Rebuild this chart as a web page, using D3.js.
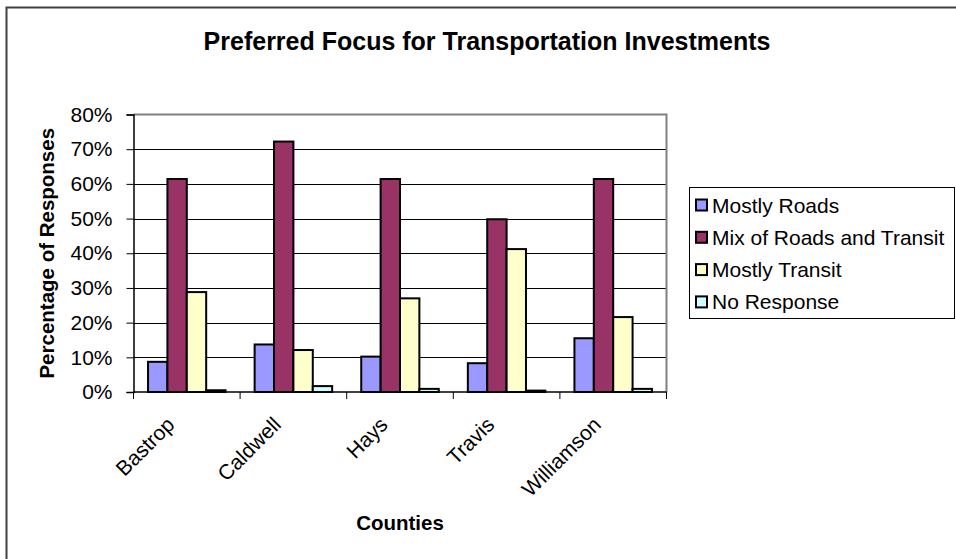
<!DOCTYPE html>
<html><head><meta charset="utf-8">
<script src="https://cdn.jsdelivr.net/npm/d3@7"></script>
<style>
html,body{margin:0;padding:0;background:#fff;}
text{font-family:Arial,"Liberation Sans",sans-serif;}
</style></head>
<body><svg id="c" width="956" height="559"></svg>
<script>
const categories = ["Bastrop","Caldwell","Hays","Travis","Williamson"];
const seriesNames = ["Mostly Roads","Mix of Roads and Transit","Mostly Transit","No Response"];
const mostlyRoads = [8.7, 13.7, 10.2, 8.3, 15.5];
const mixRoadsTransit = [61.4, 72.2, 61.4, 49.8, 61.4];
const mostlyTransit = [28.8, 12.1, 27.0, 41.2, 21.6];
const noResponse = [0.5, 1.7, 0.9, 0.4, 0.9];
const yTicks = [0,10,20,30,40,50,60,70,80];
const colors = ["#9999FF","#993366","#FFFFCC","#CCFFFF"];

const seriesValues = [mostlyRoads, mixRoadsTransit, mostlyTransit, noResponse];

const svg = d3.select("#c");
const L = 133.5, R = 666.5, T = 114.5, B = 392;

// outer frame
svg.append("rect").attr("x",6.5).attr("y",7.5).attr("width",1000).attr("height",600)
  .attr("fill","#fff").attr("stroke","#404040").attr("stroke-width",2);

svg.append("text").attr("x",487).attr("y",50).attr("text-anchor","middle")
  .attr("font-size",25).attr("font-weight","bold").text("Preferred Focus for Transportation Investments");

const x0 = d3.scaleBand().domain(categories).range([L,R]).paddingInner(0).paddingOuter(0);
const x1 = d3.scaleBand().domain(seriesNames).range([0,x0.bandwidth()]).paddingInner(0).paddingOuter(0.75);
const y = d3.scaleLinear().domain([0,80]).range([B,T]);

// gridlines
svg.append("g").selectAll("line").data(yTicks.filter(d=>d>0 && d<80)).join("line")
  .attr("x1",L).attr("x2",R).attr("y1",d=>Math.round(y(d))+0.5).attr("y2",d=>Math.round(y(d))+0.5)
  .attr("stroke","#000").attr("stroke-width",1);

// plot border top/right
svg.append("path").attr("d",`M${L},${T}H${R}V${B}`).attr("fill","none").attr("stroke","#808080").attr("stroke-width",2);

// bars
const g = svg.append("g");
categories.forEach((c,i)=>{
  seriesNames.forEach((s,j)=>{
    const v = seriesValues[j][i];
    g.append("rect").attr("x",x0(c)+x1(s)).attr("y",y(v)).attr("width",x1.bandwidth())
      .attr("height",B-y(v)).attr("fill",colors[j]).attr("stroke","#000").attr("stroke-width",2);
  });
});

// y axis
const yAxis = d3.axisLeft(y).tickValues(yTicks).tickFormat(d=>d+"%").tickSize(7).tickPadding(14);
const ya = svg.append("g").attr("transform",`translate(${L},0)`).call(yAxis);
ya.select(".domain").attr("stroke","#000").attr("stroke-width",1.5);
ya.selectAll(".tick line").attr("stroke","#000");
ya.selectAll(".tick text").attr("font-size",21).attr("fill","#000").attr("font-family","Arial, Liberation Sans, sans-serif");

// x axis
const boundaries = categories.map(c=>x0(c)).concat([R]);
const xAxisG = svg.append("g");
xAxisG.append("line").attr("x1",L).attr("x2",R).attr("y1",B).attr("y2",B).attr("stroke","#000").attr("stroke-width",1.5);
xAxisG.selectAll("line.t").data(boundaries).join("line").attr("class","t")
  .attr("x1",d=>d).attr("x2",d=>d).attr("y1",B).attr("y2",B+7).attr("stroke","#000");
xAxisG.selectAll("text").data(categories).join("text")
  .attr("transform",d=>`translate(${x0(d)+x0.bandwidth()/2-11},426) rotate(-45)`)
  .attr("text-anchor","end").attr("font-size",21).text(d=>d);

svg.append("text").attr("x",400).attr("y",530).attr("text-anchor","middle")
  .attr("font-size",20.5).attr("font-weight","bold").text("Counties");
svg.append("text").attr("transform",`translate(54,${(T+B)/2}) rotate(-90)`).attr("text-anchor","middle")
  .attr("font-size",20.5).attr("font-weight","bold").text("Percentage of Responses");

// legend
const lg = svg.append("g");
lg.append("rect").attr("x",689.5).attr("y",187.5).attr("width",265).attr("height",131)
  .attr("fill","#fff").attr("stroke","#000").attr("stroke-width",1);
seriesNames.forEach((s,j)=>{
  const cy = 205 + j*32.3;
  lg.append("rect").attr("x",696).attr("y",cy-5.5).attr("width",11).attr("height",11)
    .attr("fill",colors[j]).attr("stroke","#000").attr("stroke-width",2);
  lg.append("text").attr("x",712).attr("y",cy+7.5).attr("font-size",21).text(s);
});
</script></body></html>
